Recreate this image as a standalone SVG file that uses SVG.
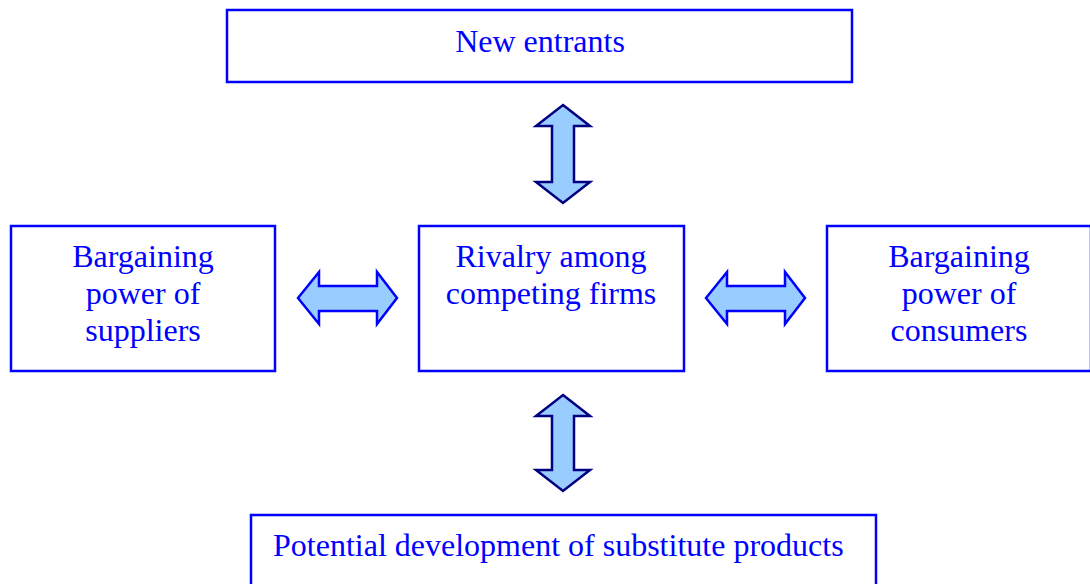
<svg xmlns="http://www.w3.org/2000/svg" width="1090" height="584" viewBox="0 0 1090 584">
<style>
.box{fill:#fff;stroke:#0000ff;stroke-width:2.5}
.t{font-family:"Liberation Serif","Times New Roman",serif;font-size:32px;fill:#0000ff;text-anchor:middle}
.va{fill:#99ccff;stroke:#000080;stroke-width:2.5;stroke-linejoin:miter}
.ha{fill:#99ccff;stroke:#0000ff;stroke-width:2.5;stroke-linejoin:miter}
</style>
<rect width="1090" height="584" fill="#fff"/>
<g id="connectors">
<path class="va" d="M563,105 L590,126 L574,126 L574,182 L590,182 L563,203 L536,182 L552,182 L552,126 L536,126 Z"/>
<path class="va" d="M563,395 L590,416 L574,416 L574,470 L590,470 L563,491 L536,470 L552,470 L552,416 L536,416 Z"/>
<path class="ha" d="M298,298 L319,272 L319,286 L377,286 L377,272 L397,298 L377,324 L377,311 L319,311 L319,324 Z"/>
<path class="ha" d="M706,298 L727,272 L727,286 L785,286 L785,272 L805,298 L785,324 L785,311 L727,311 L727,324 Z"/>
</g>
<g id="new-entrants">
<rect class="box" x="227" y="10" width="625" height="72"/>
<text class="t" x="540" y="52">New entrants</text>
</g>
<g id="suppliers">
<rect class="box" x="11" y="226" width="264" height="145"/>
<text class="t" x="143" y="267">Bargaining</text>
<text class="t" x="143" y="304">power of</text>
<text class="t" x="143" y="341">suppliers</text>
</g>
<g id="rivalry">
<rect class="box" x="419" y="226" width="265" height="145"/>
<text class="t" x="551" y="267">Rivalry among</text>
<text class="t" x="551" y="304">competing firms</text>
</g>
<g id="consumers">
<rect class="box" x="827" y="226" width="264" height="145"/>
<text class="t" x="959" y="267">Bargaining</text>
<text class="t" x="959" y="304">power of</text>
<text class="t" x="959" y="341">consumers</text>
</g>
<g id="substitutes">
<rect class="box" x="251" y="515" width="625" height="80"/>
<text class="t" x="273" y="556" style="text-anchor:start">Potential development of substitute products</text>
</g>
</svg>
